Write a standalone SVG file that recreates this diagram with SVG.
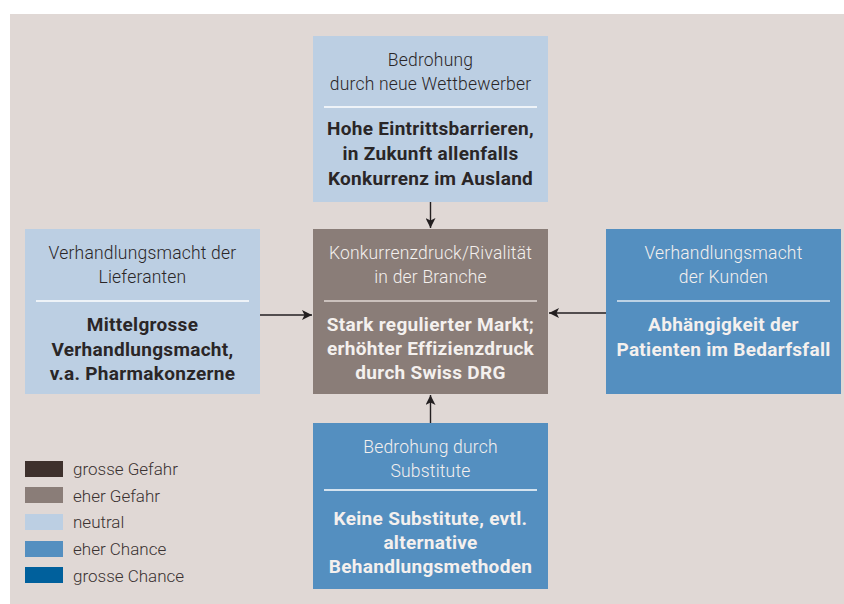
<svg xmlns="http://www.w3.org/2000/svg" width="844" height="604" viewBox="0 0 844 604">
<defs>
<marker id="ah" viewBox="0 0 10 10" refX="10" refY="5" markerWidth="10" markerHeight="10" markerUnits="userSpaceOnUse" orient="auto">
<path d="M0,0 L10,5 L0,10 L2.5,5 Z" fill="#231f20"/>
</marker>
<style>
.bg{fill:#e0d8d5}
.gg{fill:#3e312d}
.eg{fill:#8a7d78}
.ne{fill:#bccfe3}
.ec{fill:#548fc0}
.gc{fill:#00609c}
.hd{font-family:Roboto,"Liberation Sans",sans-serif;font-weight:300;font-size:17.5px;letter-spacing:0.2px;text-anchor:middle}
.bd{font-family:Roboto,"Liberation Sans",sans-serif;font-weight:700;font-size:19px;letter-spacing:0.3px;text-anchor:middle}
.dk{fill:#2a2627}
.lt{fill:#f4f0ee}
.div{stroke:#ffffff;stroke-width:1.5}
.lg{font-family:Roboto,"Liberation Sans",sans-serif;font-weight:300;font-size:17px;fill:#3a3231}
.con{stroke:#231f20;stroke-width:1.4;fill:none;marker-end:url(#ah)}
</style>
</defs>
<rect x="10" y="14" width="834" height="590" class="bg"/>

<g id="top">
<rect x="313" y="36" width="235" height="166" class="ne"/>
<text class="hd dk" x="430.5" y="66">Bedrohung</text>
<text class="hd dk" x="430.5" y="90">durch neue Wettbewerber</text>
<line class="div" x1="324" y1="107" x2="537" y2="107"/>
<text class="bd dk" x="430.5" y="135">Hohe Eintrittsbarrieren,</text>
<text class="bd dk" x="430.5" y="160">in Zukunft allenfalls</text>
<text class="bd dk" x="430.5" y="185">Konkurrenz im Ausland</text>
</g>

<g id="left">
<rect x="25" y="229" width="235" height="165" class="ne"/>
<text class="hd dk" x="142.5" y="259">Verhandlungsmacht der</text>
<text class="hd dk" x="142.5" y="283">Lieferanten</text>
<line class="div" x1="36" y1="301" x2="249" y2="301"/>
<text class="bd dk" x="142.5" y="331">Mittelgrosse</text>
<text class="bd dk" x="142.5" y="356">Verhandlungsmacht,</text>
<text class="bd dk" x="142.5" y="380">v.a. Pharmakonzerne</text>
</g>

<g id="center">
<rect x="313" y="229" width="235" height="165" class="eg"/>
<text class="hd lt" x="430.5" y="259">Konkurrenzdruck/Rivalität</text>
<text class="hd lt" x="430.5" y="283">in der Branche</text>
<line class="div" x1="324" y1="301" x2="537" y2="301" style="stroke:#e0d8d5"/>
<text class="bd lt" x="430.5" y="331">Stark regulierter Markt;</text>
<text class="bd lt" x="430.5" y="355">erhöhter Effizienzdruck</text>
<text class="bd lt" x="430.5" y="379">durch Swiss DRG</text>
</g>

<g id="right">
<rect x="606" y="229" width="235" height="165" class="ec"/>
<text class="hd lt" x="723.5" y="259">Verhandlungsmacht</text>
<text class="hd lt" x="723.5" y="283">der Kunden</text>
<line class="div" x1="617" y1="301" x2="830" y2="301" style="stroke:#dfe8f2"/>
<text class="bd lt" x="723.5" y="331">Abhängigkeit der</text>
<text class="bd lt" x="723.5" y="356">Patienten im Bedarfsfall</text>
</g>

<g id="bottom">
<rect x="313" y="423" width="235" height="166" class="ec"/>
<text class="hd lt" x="430.5" y="453">Bedrohung durch</text>
<text class="hd lt" x="430.5" y="477">Substitute</text>
<line class="div" x1="324" y1="490" x2="537" y2="490"/>
<text class="bd lt" x="430.5" y="525">Keine Substitute, evtl.</text>
<text class="bd lt" x="430.5" y="549">alternative</text>
<text class="bd lt" x="430.5" y="573">Behandlungsmethoden</text>
</g>

<g id="connectors">
<line class="con" x1="430.5" y1="202" x2="430.5" y2="228"/>
<line class="con" x1="260" y1="315" x2="312" y2="315"/>
<line class="con" x1="606" y1="313" x2="549" y2="313"/>
<line class="con" x1="430.5" y1="423" x2="430.5" y2="395"/>
</g>

<g id="legend">
<rect x="25" y="461" width="38" height="16" class="gg"/>
<text class="lg" x="73" y="475">grosse Gefahr</text>
<rect x="25" y="487" width="38" height="16" class="eg"/>
<text class="lg" x="73" y="502">eher Gefahr</text>
<rect x="25" y="514" width="38" height="16" class="ne"/>
<text class="lg" x="73" y="528">neutral</text>
<rect x="25" y="541" width="38" height="16" class="ec"/>
<text class="lg" x="73" y="555">eher Chance</text>
<rect x="25" y="567" width="38" height="16" class="gc"/>
<text class="lg" x="73" y="582">grosse Chance</text>
</g>
</svg>
